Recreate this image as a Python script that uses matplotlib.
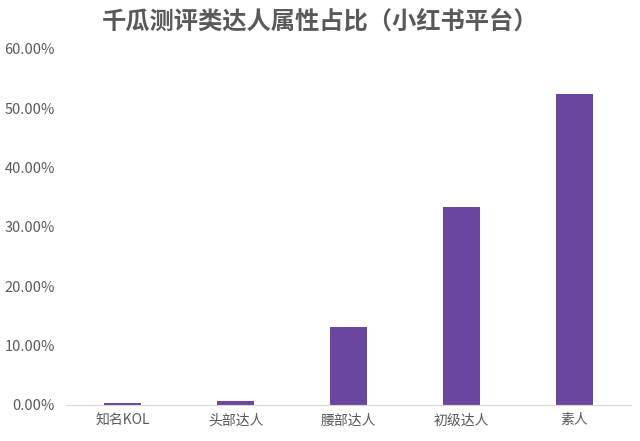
import matplotlib.pyplot as plt
from matplotlib.ticker import PercentFormatter

plt.rcParams['font.family'] = ['Noto Sans CJK SC', 'DejaVu Sans']

categories = ["知名KOL", "头部达人", "腰部达人", "初级达人", "素人"]
shares = [0.4, 0.7, 13.2, 33.3, 52.4]
y_ticks = [0, 10, 20, 30, 40, 50, 60]

fig = plt.figure(figsize=(6.4, 4.41), dpi=100)
ax = fig.add_axes([66/640, 1 - 405/441, 565/640, (405 - 49)/441])

ax.bar(range(len(categories)), shares, width=0.32, color="#6A46A0")
ax.set_xlim(-0.5, len(categories) - 0.5)
ax.set_ylim(0, 60)
ax.set_yticks(y_ticks)
ax.yaxis.set_major_formatter(PercentFormatter(decimals=2))
ax.set_xticks(range(len(categories)))
ax.set_xticklabels(categories)

for s in ["top", "right", "left"]:
    ax.spines[s].set_visible(False)
ax.spines["bottom"].set_color("#D9D9D9")
ax.tick_params(axis="both", length=0, colors="#595959", labelsize=10)
ax.tick_params(axis="y", pad=8, labelsize=10.5)
ax.tick_params(axis="x", pad=6)

fig.text(0.5, 1 - 22/441, "千瓜测评类达人属性占比（小红书平台）", ha="center", va="center",
         fontsize=17.5, fontweight="bold", color="#595959")

fig.savefig("out.png", dpi=100)
